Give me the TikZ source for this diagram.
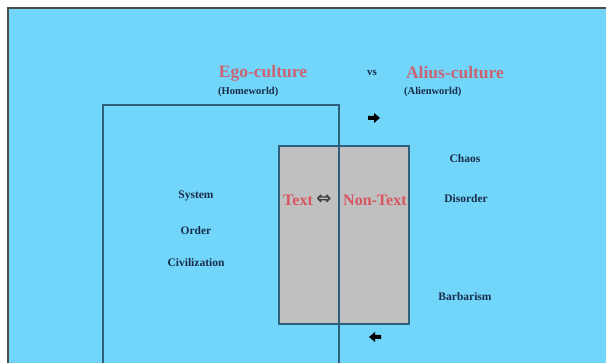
\documentclass[tikz,border=0pt]{standalone}
\usepackage{fontspec}
\setmainfont{Liberation Serif}
\newfontfamily\symfont{DejaVu Sans}
\definecolor{skyblue}{RGB}{114,214,250}
\definecolor{boxgray}{RGB}{192,192,192}
\definecolor{edgeteal}{RGB}{45,95,125}
\definecolor{rosered}{RGB}{200,100,115}
\definecolor{textred}{RGB}{215,85,95}
\definecolor{inknavy}{RGB}{25,45,75}
\begin{document}
\begin{tikzpicture}[x=1pt,y=-1pt,
  head/.style={text=rosered,font=\bfseries\fontsize{17.5}{19}\selectfont,inner sep=0pt},
  subhead/.style={text=inknavy,font=\bfseries\fontsize{10.5}{12}\selectfont,inner sep=0pt},
  term/.style={text=inknavy,font=\bfseries\fontsize{11.5}{13}\selectfont,inner sep=0pt},
  pair/.style={text=textred,font=\bfseries\fontsize{16}{18}\selectfont,inner sep=0pt}]
 \useasboundingbox (0,0) rectangle (606,363);
 \fill[white] (0,0) rectangle (606,363);
 \fill[skyblue] (8,8) rectangle (606,363);
 \draw[line width=1.5pt,gray!60!black] (8,363)--(8,8)--(606,8);
 % the two worlds
 \filldraw[fill=boxgray,draw=edgeteal,line width=1.2pt] (279,146) rectangle (409,324);
 \draw[edgeteal,line width=1.2pt] (103,364)--(103,105)--(339,105)--(339,364);
 % headings
 \node[head] (ego) at (263,73) {Ego-culture};
 \node[subhead,anchor=west] (homeworld) at (218,92) {(Homeworld)};
 \node[subhead,font=\bfseries\fontsize{11}{12}\selectfont] (vs) at (372,73) {vs};
 \node[head] (alius) at (455,73) {Alius-culture};
 \node[subhead,anchor=west] (alienworld) at (404,92) {(Alienworld)};
 % left side
 \node[term] (system) at (196,196) {System};
 \node[term] (order) at (196,231) {Order};
 \node[term] (civil) at (196,263) {Civilization};
 % right side
 \node[term] (chaos) at (465,159) {Chaos};
 \node[term] (disorder) at (466,199) {Disorder};
 \node[term] (barbarism) at (465,297) {Barbarism};
 % middle
 \node[pair,anchor=west] (text) at (283,200) {Text};
 \node[text=black!75,inner sep=0pt,font=\symfont\bfseries\fontsize{18}{20}\selectfont] (swap) at (324,200) {⇔};
 \node[pair,anchor=west] (nontext) at (343,200) {Non-Text};
 % arrows
 \fill (368,116)--(374,116)--(374,113)--(380,118)--(374,123)--(374,120)--(368,120)--cycle;
 \fill (381,335)--(375,335)--(375,332)--(369,337)--(375,342)--(375,339)--(381,339)--cycle;
\end{tikzpicture}
\end{document}
